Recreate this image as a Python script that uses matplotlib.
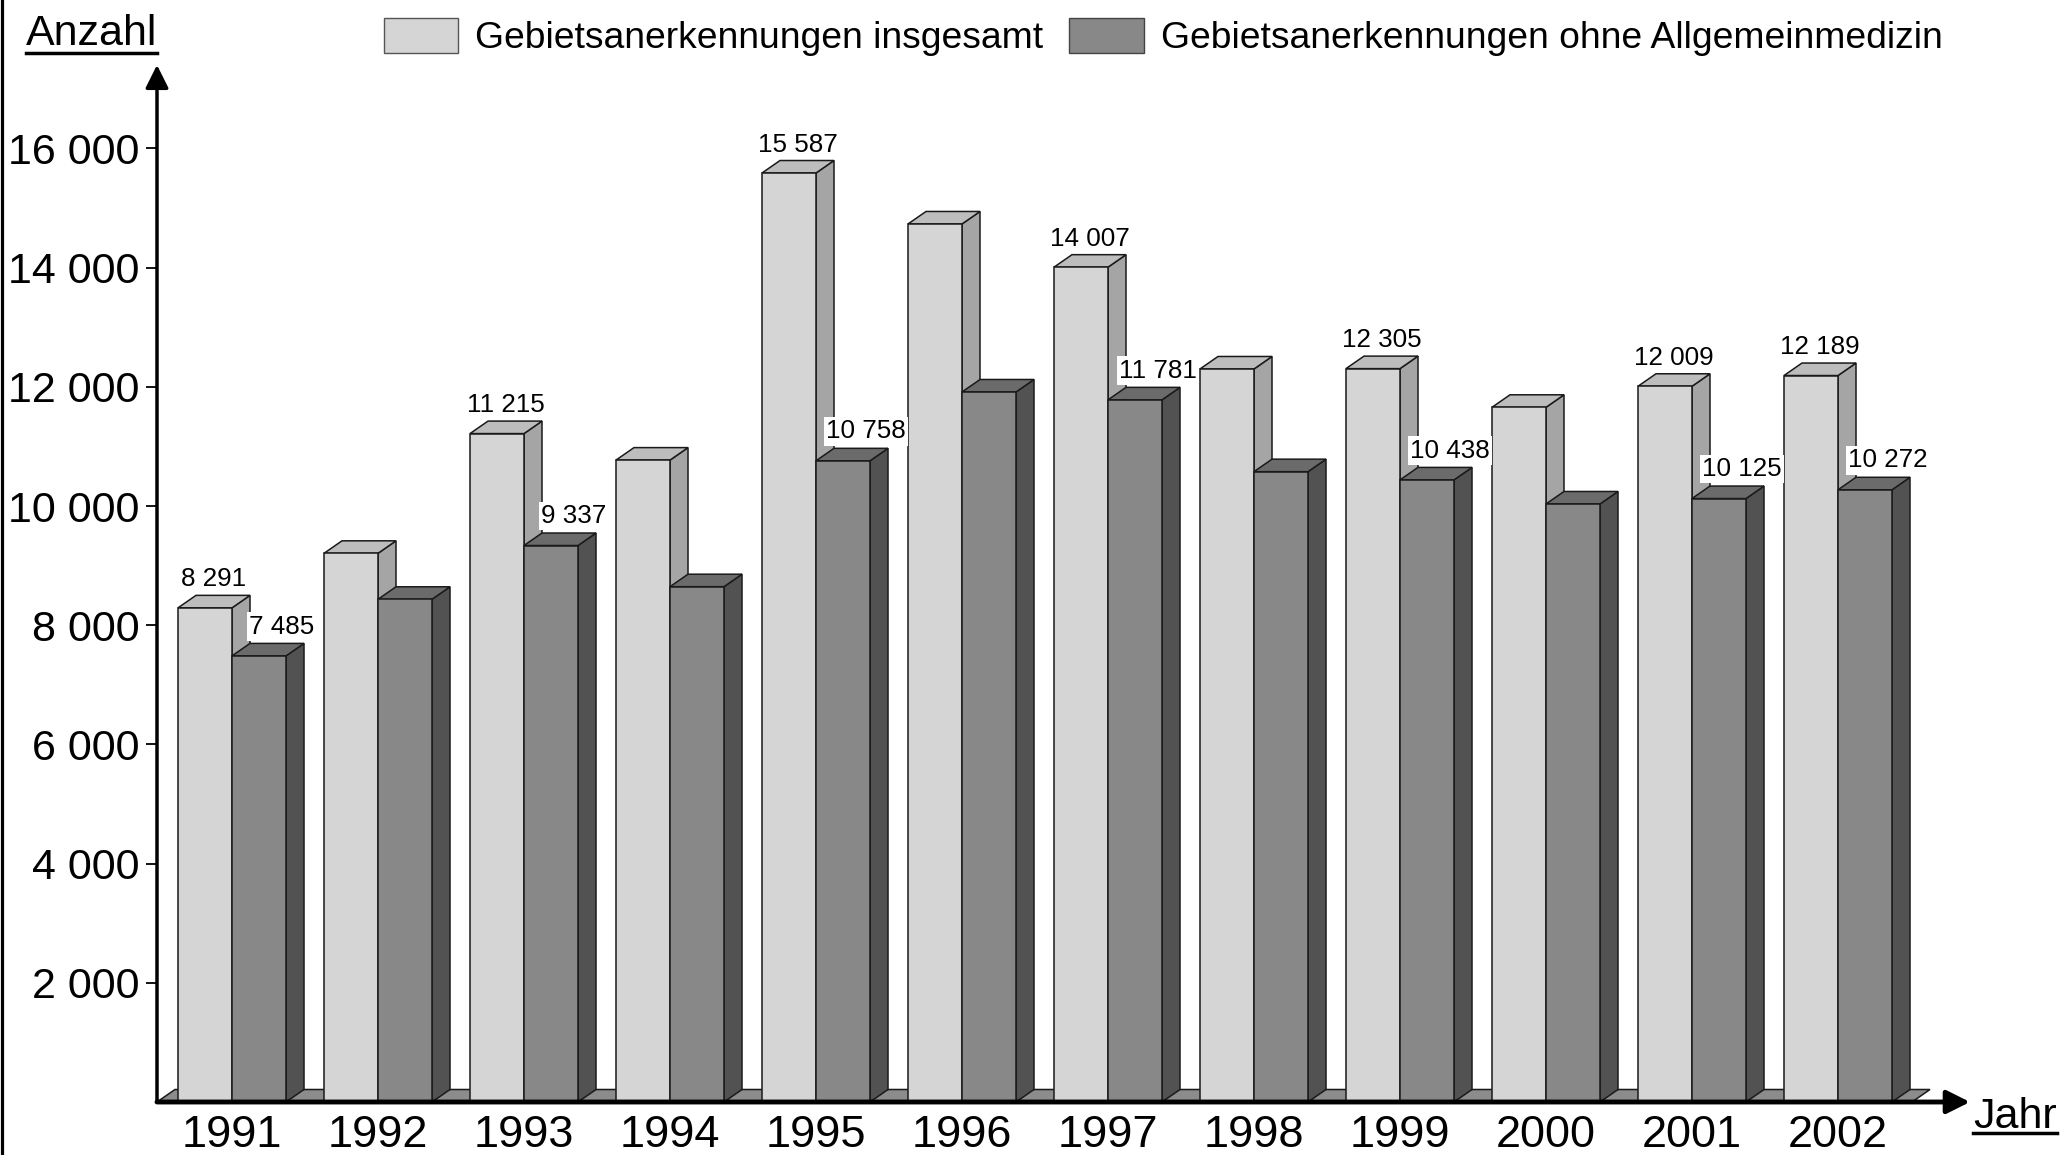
import matplotlib
matplotlib.use('Agg')
import matplotlib.pyplot as plt
from matplotlib.patches import Polygon, Patch
from matplotlib.lines import Line2D

plt.rcParams['font.family'] = ['Liberation Sans', 'DejaVu Sans']

years = ['1991', '1992', '1993', '1994', '1995', '1996',
         '1997', '1998', '1999', '2000', '2001', '2002']
insgesamt = [8291, 9206, 11215, 10770, 15587, 14732,
             14007, 12299, 12305, 11656, 12009, 12189]
ohne_allg = [7485, 8435, 9337, 8646, 10758, 11913,
             11781, 10576, 10438, 10034, 10125, 10272]
# which years carry a value label
labelled = [True, False, True, False, True, False,
            True, False, True, False, True, True]
yticks = [2000, 4000, 6000, 8000, 10000, 12000, 14000, 16000]
legend_labels = ['Gebietsanerkennungen insgesamt',
                 'Gebietsanerkennungen ohne Allgemeinmedizin']

W, H = 2062, 1155
fig = plt.figure(figsize=(W / 100, H / 100), dpi=100)

# axes box in pixel terms (left, top=arrow tip, right=arrow tip, baseline)
ax_l, ax_t, ax_r, ax_b = 157, 65, 1970, 1102
ax = fig.add_axes([ax_l / W, (H - ax_b) / H, (ax_r - ax_l) / W, (ax_b - ax_t) / H])
px_per_val = 0.0596
ymax = (ax_b - ax_t) / px_per_val
pitch = 146.0
x0 = -(232 - ax_l) / pitch
x1 = (ax_r - 232) / pitch
ax.set_xlim(x0, x1)
ax.set_ylim(0, ymax)

w = 54 / pitch          # bar width
dx = 18 / pitch         # depth offset in x
dy = 12.5 / px_per_val  # depth offset in y

light = dict(front='#d5d5d5', top='#bdbdbd', side='#a5a5a5')
dark = dict(front='#888888', top='#6b6b6b', side='#525252')
ec = '#1a1a1a'
lw = 1.1

# floor
floor_r = (1930 - 232) / pitch
ax.add_patch(Polygon([(x0, 0), (x0 + dx, dy), (floor_r, dy), (floor_r - dx, 0)],
                     closed=True, facecolor='#8c8c8c', edgecolor=ec, lw=lw,
                     zorder=1, clip_on=False))


def box3d(left, val, cols, z):
    right = left + w
    ax.add_patch(Polygon([(right, 0), (right + dx, dy), (right + dx, val + dy), (right, val)],
                         closed=True, facecolor=cols['side'], edgecolor=ec, lw=lw, zorder=z))
    ax.add_patch(Polygon([(left, val), (left + dx, val + dy), (right + dx, val + dy), (right, val)],
                         closed=True, facecolor=cols['top'], edgecolor=ec, lw=lw, zorder=z))
    ax.bar(left, val, width=w, align='edge', color=cols['front'], edgecolor=ec,
           linewidth=lw, zorder=z + 0.5)


for i in range(len(years)):
    box3d(i - w, insgesamt[i], light, 2 + i * 0.01)
    box3d(i, ohne_allg[i], dark, 3 + i * 0.01)
    if labelled[i]:
        a = '{:,}'.format(insgesamt[i]).replace(',', ' ')
        b = '{:,}'.format(ohne_allg[i]).replace(',', ' ')
        ax.text(i - w / 2 + dx / 2, insgesamt[i] + dy + 150, a, ha='center',
                va='baseline', fontsize=18.7, zorder=6)
        ax.text(i + w - 0.03, ohne_allg[i] + dy + 165, b, ha='center',
                va='baseline', fontsize=18.7, zorder=6,
                bbox=dict(facecolor='white', edgecolor='none', pad=1.5))

# axes with arrows
for s in ax.spines.values():
    s.set_visible(False)
ax.annotate('', xy=(0, 1), xytext=(0, 0), xycoords='axes fraction',
            arrowprops=dict(arrowstyle='-|>', lw=2.5, color='black',
                            mutation_scale=35, shrinkA=0, shrinkB=0), zorder=7)
ax.annotate('', xy=(1, 0), xytext=(0, 0), xycoords='axes fraction',
            arrowprops=dict(arrowstyle='-|>', lw=3.5, color='black',
                            mutation_scale=35, shrinkA=0, shrinkB=0), zorder=7)

ax.set_yticks(yticks)
ax.set_yticklabels(['{:,}'.format(v).replace(',', ' ') for v in yticks])
ax.tick_params(axis='y', direction='out', length=8, width=1.3, pad=4.5,
               labelsize=31, color='black')
ax.set_xticks(range(len(years)))
ax.set_xticklabels(years)
ax.tick_params(axis='x', length=0, pad=9.5, labelsize=32.5)

# legend
handles = [Patch(facecolor=light['front'], edgecolor='#555555', lw=1),
           Patch(facecolor=dark['front'], edgecolor='#444444', lw=1)]
fig.legend(handles, legend_labels, loc='center left', ncol=2, frameon=False,
           bbox_to_anchor=(384 / W, 1 - 37 / H), borderpad=0, borderaxespad=0,
           fontsize=26.8, handlelength=2.0, handleheight=1.05,
           handletextpad=0.45, columnspacing=0.7)

# axis titles, underlined
t1 = fig.text(26 / W, 1 - 45 / H, 'Anzahl', fontsize=31, ha='left', va='baseline')
t2 = fig.text(1973 / W, 1 - 1128 / H, 'Jahr', fontsize=31, ha='left', va='baseline')

# left border line
fig.add_artist(Line2D([1.5 / W, 1.5 / W], [0, 1], transform=fig.transFigure,
                      color='black', lw=2.3))

fig.canvas.draw()
r = fig.canvas.get_renderer()
for t, uy in [(t1, 53), (t2, 1133)]:
    bb = t.get_window_extent(r)
    fig.add_artist(Line2D([bb.x0 / W, bb.x1 / W], [1 - uy / H, 1 - uy / H],
                          transform=fig.transFigure, color='black', lw=2.5))

fig.savefig('out.png', dpi=100, facecolor='white')
